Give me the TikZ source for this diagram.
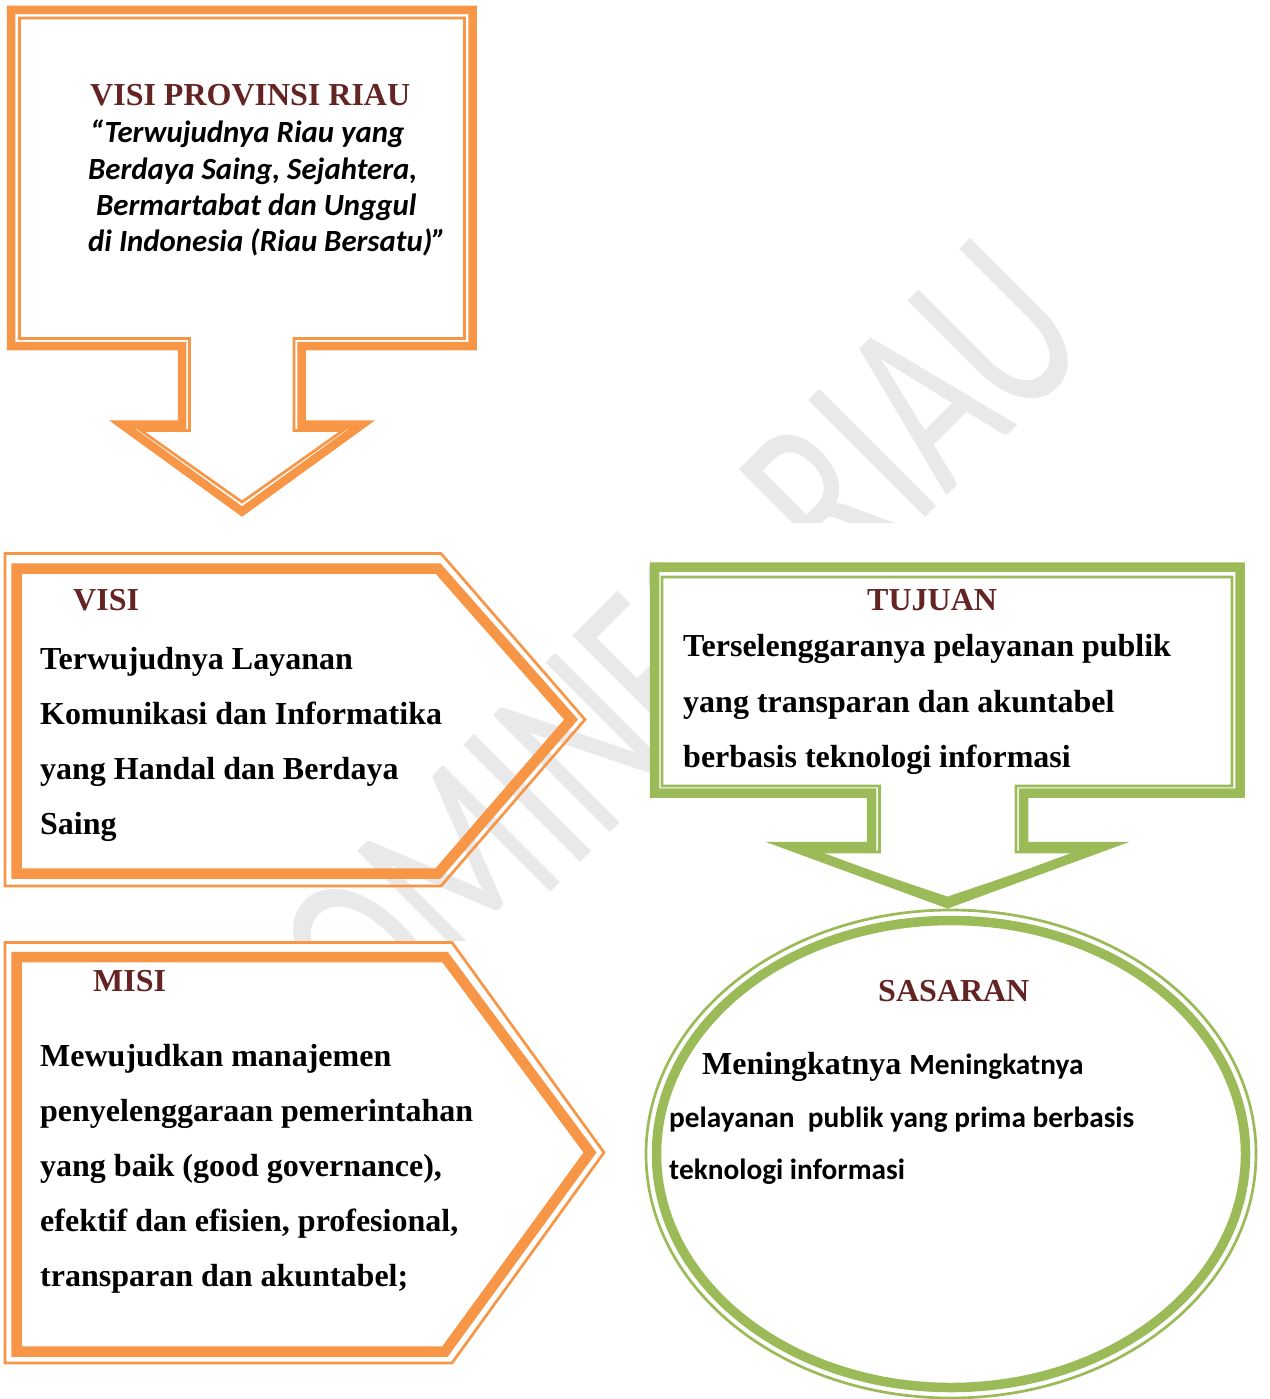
\documentclass[tikz,border=0pt]{standalone}
\usepackage{fontspec}
\setmainfont{Liberation Serif}
\newfontfamily\calfont{Carlito}
\definecolor{orangeline}{HTML}{F79646}
\definecolor{greenline}{HTML}{9BBB59}
\definecolor{headred}{HTML}{632423}
\definecolor{wmgray}{gray}{0.915}

\begin{document}
\begin{tikzpicture}[x=1pt,y=-1pt,
  thickline/.style={line width=9pt, line join=miter},
  thinline/.style={line width=2.7pt, line join=miter},
  headtext/.style={anchor=base west, inner sep=0pt, text=headred,
    font=\fontsize{32}{38}\selectfont\bfseries},
  bodytext/.style={anchor=base west, inner sep=0pt,
    font=\fontsize{32}{38}\selectfont\bfseries},
  calbody/.style={anchor=base west, inner sep=0pt,
    font=\calfont\fontsize{29.3}{35}\selectfont\bfseries},
  quotetext/.style={anchor=base west, inner sep=0pt,
    font=\calfont\fontsize{30.8}{36}\selectfont\bfseries\itshape},
  wmtext/.style={inner sep=0pt, text=wmgray,
    font=\calfont\fontsize{258}{258}\selectfont},
]
\fill[white] (0,0) rectangle (1269,1399);
\useasboundingbox (0,0) rectangle (1269,1399);

% background watermark, hidden behind the right-hand boxes and the MISI box
\begin{scope}
  \clip (0,0) rectangle (650,940) (650,0) rectangle (1269,522);
  \node[wmtext, anchor=base east, rotate=45] (watermark) at (1096,347)
    {\scalebox{0.68}[1]{KOMINFO RIAU}};
\end{scope}

% top callout: Visi Provinsi Riau
\draw[thickline, orangeline, line width=8.5pt]
  (11,10) -- (472.5,10) -- (472.5,346) -- (301.5,346) -- (301.5,424.5)
  -- (362,424.5) -- (242,511.5) -- (122,424.5) -- (182,424.5) -- (182,346)
  -- (11,346) -- cycle;
\draw[thinline, orangeline]
  (19.5,18) -- (464.5,18) -- (464.5,338.5) -- (294,338.5) -- (294,430.5)
  -- (343,430.5) -- (242,502) -- (141,430.5) -- (189.5,430.5) -- (189.5,338.5)
  -- (19.5,338.5) -- cycle;

% VISI pentagon
\draw[thinline, orangeline]
  (5,553.5) -- (441,553.5) -- (585,719.5) -- (441,886) -- (5,886) -- cycle;
\draw[thickline, orangeline, line width=10.5pt]
  (16.5,568.5) -- (438,568.5) -- (571,719.5) -- (438,873.5) -- (16.5,873.5) -- cycle;

% MISI pentagon
\draw[thinline, orangeline]
  (5,942.5) -- (452,942.5) -- (604,1152.5) -- (452,1363) -- (5,1363) -- cycle;
\draw[thickline, orangeline, line width=10.5pt]
  (16.5,957) -- (445,957) -- (590,1152.5) -- (445,1351.5) -- (16.5,1351.5) -- cycle;

% TUJUAN callout
\draw[thickline, greenline, line width=9.5pt]
  (654.5,567) -- (1240,567) -- (1240,793) -- (1023.5,793) -- (1023.5,846.5)
  -- (1103,846.5) -- (947.5,903.5) -- (792,846.5) -- (871.5,846.5) -- (871.5,793)
  -- (654.5,793) -- cycle;
\draw[thinline, greenline]
  (662,577) -- (1232,577) -- (1232,786) -- (1016,786) -- (1016,852)
  -- (1084,852) -- (947.5,898) -- (811,852) -- (879.5,852) -- (879.5,786)
  -- (662,786) -- cycle;

% SASARAN ellipse
\draw[thinline, greenline] (951,1154) ellipse [x radius=305pt, y radius=244pt];
\draw[greenline, line width=9.5pt] (951,1154) ellipse [x radius=294.5pt, y radius=233.5pt];

% texts of the top callout
\node[headtext] (vpTitle) at (90,106) {VISI PROVINSI RIAU};
\node[quotetext] (vpLineA) at (90,143) {“Terwujudnya Riau yang};
\node[quotetext] (vpLineB) at (88,179) {Berdaya Saing, Sejahtera,};
\node[quotetext] (vpLineC) at (96,215) {Bermartabat dan Unggul};
\node[quotetext] (vpLineD) at (88,251) {di Indonesia (Riau Bersatu)”};

% VISI texts
\node[headtext] (visiTitle) at (73,610) {VISI};
\node[bodytext] (visiA) at (40,669) {Terwujudnya Layanan};
\node[bodytext] (visiB) at (40,724) {Komunikasi dan Informatika};
\node[bodytext] (visiC) at (40,779) {yang Handal dan Berdaya};
\node[bodytext] (visiD) at (40,834) {Saing};

% MISI texts
\node[headtext] (misiTitle) at (93,991) {MISI};
\node[bodytext] (misiA) at (40,1066) {Mewujudkan manajemen};
\node[bodytext] (misiB) at (40,1121) {penyelenggaraan pemerintahan};
\node[bodytext] (misiC) at (40,1176) {yang baik (good governance),};
\node[bodytext] (misiD) at (40,1231) {efektif dan efisien, profesional,};
\node[bodytext] (misiE) at (40,1286) {transparan dan akuntabel;};

% TUJUAN texts
\node[headtext] (tujuanTitle) at (867,610) {TUJUAN};
\node[bodytext] (tujuanA) at (683,656) {Terselenggaranya pelayanan publik};
\node[bodytext] (tujuanB) at (683,712) {yang transparan dan akuntabel};
\node[bodytext] (tujuanC) at (683,767) {berbasis teknologi informasi};

% SASARAN texts
\node[headtext] (sasaranTitle) at (878,1001) {SASARAN};
\node[bodytext] (sasaranA) at (702,1074)
  {Meningkatnya {\calfont\fontsize{29.3}{35}\selectfont Meningkatnya}};
\node[calbody] (sasaranB) at (669,1127) {pelayanan\ \ publik yang prima berbasis};
\node[calbody] (sasaranC) at (669,1179) {teknologi informasi};
\end{tikzpicture}
\end{document}
